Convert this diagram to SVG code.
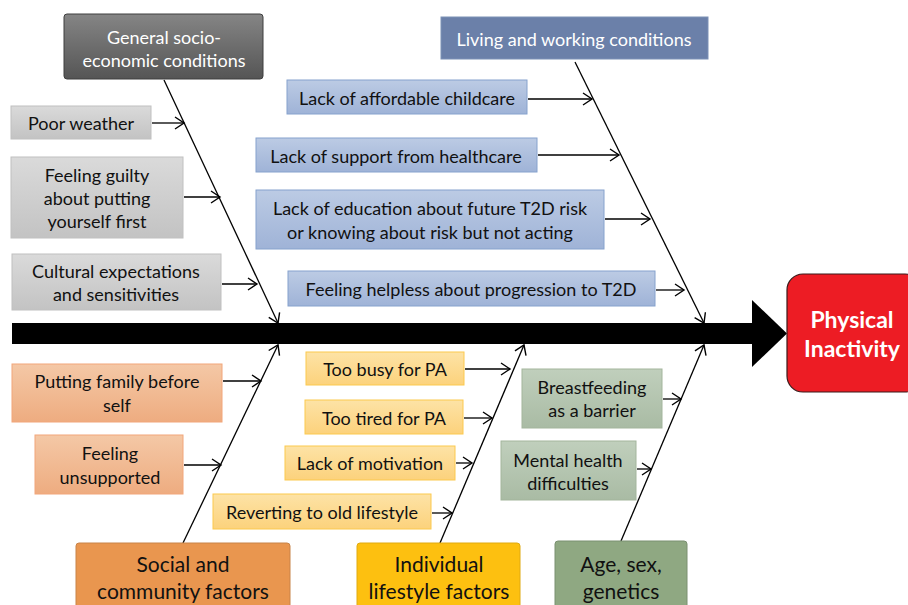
<svg xmlns="http://www.w3.org/2000/svg" width="908" height="605" viewBox="0 0 908 605">
<defs>
<linearGradient id="gGray" x1="0" y1="0" x2="0" y2="1"><stop offset="0" stop-color="#dadada"/><stop offset="1" stop-color="#c3c3c3"/></linearGradient>
<linearGradient id="gDark" x1="0" y1="0" x2="0" y2="1"><stop offset="0" stop-color="#858585"/><stop offset="1" stop-color="#555555"/></linearGradient>
<linearGradient id="gBlue" x1="0" y1="0" x2="0" y2="1"><stop offset="0" stop-color="#bccbe4"/><stop offset="1" stop-color="#9fb3d7"/></linearGradient>
<linearGradient id="gOrange" x1="0" y1="0" x2="0" y2="1"><stop offset="0" stop-color="#f4c8a6"/><stop offset="1" stop-color="#eeac80"/></linearGradient>
<linearGradient id="gYellow" x1="0" y1="0" x2="0" y2="1"><stop offset="0" stop-color="#fde3a6"/><stop offset="1" stop-color="#fcd27c"/></linearGradient>
<linearGradient id="gGreen" x1="0" y1="0" x2="0" y2="1"><stop offset="0" stop-color="#c0cfbc"/><stop offset="1" stop-color="#a9bba4"/></linearGradient>
<marker id="ah" markerUnits="userSpaceOnUse" markerWidth="14" markerHeight="14" viewBox="0 0 14 14" refX="12" refY="7" orient="auto">
<path d="M3,1 L12,7 L3,13" fill="none" stroke="#000" stroke-width="1.4"/>
</marker>
</defs>
<style>
text{font-family:Lato,"Liberation Sans",sans-serif;font-size:18px;fill:#111;text-anchor:middle;dominant-baseline:central}
.w{fill:#fff}
.big{font-size:21px}
.pi{font-size:23px;font-weight:bold;fill:#fff}
.gray{fill:url(#gGray);stroke:#c0c0c0;stroke-width:1}
.dark{fill:url(#gDark);stroke:#3f3f3f;stroke-width:1}
.blue{fill:url(#gBlue);stroke:#86a2cd;stroke-width:1}
.cblue{fill:#6b80a9;stroke:#7d91b6;stroke-width:1}
.orange{fill:url(#gOrange);stroke:#f2a67a;stroke-width:1}
.corange{fill:#e9964f;stroke:#c88348;stroke-width:1}
.yellow{fill:url(#gYellow);stroke:#fcc94e;stroke-width:1}
.cyellow{fill:#fdc010;stroke:#e0aa10;stroke-width:1}
.green{fill:url(#gGreen);stroke:#a3b59c;stroke-width:1}
.cgreen{fill:#8fa882;stroke:#7a9070;stroke-width:1}
.c{stroke:#000;stroke-width:1.3;fill:none;marker-end:url(#ah)}
</style>
<rect width="908" height="605" fill="#fff"/>

<g id="spine">
<rect x="12" y="323" width="742" height="21" fill="#000"/>
<polygon points="752,300 787,333.5 752,367" fill="#000"/>
</g>

<g id="connectors">
<line class="c" x1="164" y1="80" x2="278" y2="323"/>
<line class="c" x1="152" y1="123" x2="184" y2="123"/>
<line class="c" x1="184" y1="197" x2="220" y2="197"/>
<line class="c" x1="222" y1="284" x2="257" y2="284"/>
<line class="c" x1="575" y1="62" x2="704" y2="323"/>
<line class="c" x1="528" y1="99" x2="592" y2="99"/>
<line class="c" x1="538" y1="155" x2="619" y2="155"/>
<line class="c" x1="605" y1="219" x2="650" y2="219"/>
<line class="c" x1="656" y1="290" x2="684" y2="290"/>
<line class="c" x1="183" y1="543" x2="278" y2="345"/>
<line class="c" x1="223" y1="381" x2="261" y2="381"/>
<line class="c" x1="184" y1="465" x2="221" y2="465"/>
<line class="c" x1="440" y1="543" x2="524" y2="345"/>
<line class="c" x1="465" y1="369" x2="510" y2="369"/>
<line class="c" x1="464" y1="418" x2="492" y2="418"/>
<line class="c" x1="456" y1="463" x2="472" y2="463"/>
<line class="c" x1="432" y1="513" x2="452" y2="513"/>
<line class="c" x1="621" y1="541" x2="704" y2="345"/>
<line class="c" x1="663" y1="399" x2="681" y2="399"/>
<line class="c" x1="637" y1="469" x2="651" y2="469"/>
</g>

<g id="physical-inactivity">
<rect x="787" y="274" width="134" height="118" rx="16" fill="#ed1c24" stroke="#3a1a1a" stroke-width="1.2"/>
<text class="pi" x="852" y="319">Physical</text>
<text class="pi" x="852" y="348">Inactivity</text>
</g>

<g id="general-socio-economic">
<rect class="dark" x="64" y="14" width="199" height="65" rx="3"/>
<text class="w" x="164" y="37">General socio-</text>
<text class="w" x="164" y="60">economic conditions</text>
</g>
<g id="poor-weather">
<rect class="gray" x="11" y="106" width="140" height="33"/>
<text x="81" y="123">Poor weather</text>
</g>
<g id="feeling-guilty">
<rect class="gray" x="11" y="157" width="172" height="81"/>
<text x="97" y="175">Feeling guilty</text>
<text x="97" y="198">about putting</text>
<text x="97" y="221">yourself first</text>
</g>
<g id="cultural">
<rect class="gray" x="12" y="254" width="209" height="56"/>
<text x="116" y="271">Cultural expectations</text>
<text x="116" y="294">and sensitivities</text>
</g>

<g id="living-working">
<rect class="cblue" x="441" y="17" width="267" height="42"/>
<text class="w" x="574" y="39">Living and working conditions</text>
</g>
<g id="childcare">
<rect class="blue" x="287" y="80" width="240" height="34"/>
<text x="407" y="98">Lack of affordable childcare</text>
</g>
<g id="healthcare">
<rect class="blue" x="256" y="138" width="281" height="34"/>
<text x="396" y="156">Lack of support from healthcare</text>
</g>
<g id="education">
<rect class="blue" x="256" y="190" width="348" height="59"/>
<text x="430" y="208">Lack of education about future T2D risk</text>
<text x="430" y="232">or knowing about risk but not acting</text>
</g>
<g id="helpless">
<rect class="blue" x="288" y="271" width="367" height="35"/>
<text x="471" y="289">Feeling helpless about progression to T2D</text>
</g>

<g id="social-community">
<rect class="corange" x="76" y="543" width="214" height="70" rx="3"/>
<text class="big" x="183" y="563">Social and</text>
<text class="big" x="183" y="590">community factors</text>
</g>
<g id="family-before-self">
<rect class="orange" x="12" y="364" width="210" height="58"/>
<text x="117" y="381">Putting family before</text>
<text x="117" y="405">self</text>
</g>
<g id="unsupported">
<rect class="orange" x="35" y="435" width="148" height="59"/>
<text x="110" y="453">Feeling</text>
<text x="110" y="477">unsupported</text>
</g>

<g id="individual-lifestyle">
<rect class="cyellow" x="357" y="543" width="163" height="70" rx="3"/>
<text class="big" x="439" y="563">Individual</text>
<text class="big" x="439" y="590">lifestyle factors</text>
</g>
<g id="too-busy">
<rect class="yellow" x="306" y="352" width="158" height="33"/>
<text x="385" y="369">Too busy for PA</text>
</g>
<g id="too-tired">
<rect class="yellow" x="305" y="400" width="158" height="34"/>
<text x="384" y="418">Too tired for PA</text>
</g>
<g id="motivation">
<rect class="yellow" x="285" y="446" width="170" height="34"/>
<text x="370" y="463">Lack of motivation</text>
</g>
<g id="reverting">
<rect class="yellow" x="213" y="494" width="218" height="35"/>
<text x="322" y="512">Reverting to old lifestyle</text>
</g>

<g id="age-sex-genetics">
<rect class="cgreen" x="555" y="541" width="132" height="72" rx="3"/>
<text class="big" x="621" y="563">Age, sex,</text>
<text class="big" x="621" y="590">genetics</text>
</g>
<g id="breastfeeding">
<rect class="green" x="522" y="369" width="140" height="59"/>
<text x="592" y="387">Breastfeeding</text>
<text x="592" y="410">as a barrier</text>
</g>
<g id="mental-health">
<rect class="green" x="501" y="441" width="135" height="59"/>
<text x="568" y="460">Mental health</text>
<text x="568" y="483">difficulties</text>
</g>
</svg>
